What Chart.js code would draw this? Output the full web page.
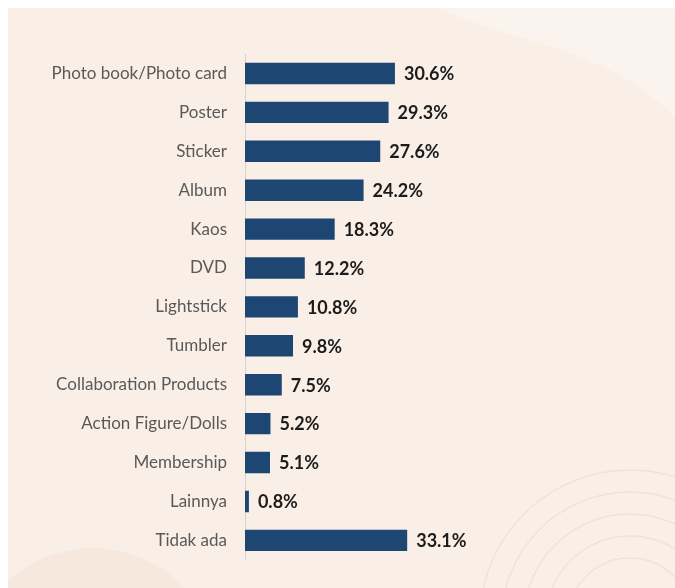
<!DOCTYPE html>
<html>
<head>
<meta charset="utf-8">
<script src="https://cdn.jsdelivr.net/npm/chart.js@4"></script>
<style>
  html, body { margin: 0; padding: 0; background: #ffffff; }
  #frame { position: absolute; left: 8px; top: 8px; width: 667px; height: 580px; background: #f9efe7; overflow: hidden; }
  #deco { position: absolute; left: 0; top: 0; }
  #wrap { position: absolute; left: 0; top: 0; width: 667px; height: 580px; }
</style>
</head>
<body>
<div id="frame">
  <svg id="deco" width="667" height="580" viewBox="0 0 667 580">
    <path d="M 430 0 C 520 40, 600 40, 667 110 L 667 0 Z" fill="#fbf3ed"/>
    <circle cx="85" cy="665" r="125" fill="#f7e8de"/>
    <g fill="none" stroke="#eee2d8" stroke-width="1.3">
      <circle cx="622" cy="612" r="150"/>
      <circle cx="622" cy="612" r="128"/>
      <circle cx="622" cy="612" r="106"/>
      <circle cx="622" cy="612" r="84"/>
      <circle cx="622" cy="612" r="62"/>
    </g>
  </svg>
  <div id="wrap"><canvas id="c"></canvas></div>
</div>
<script>
const categories = ["Photo book/Photo card","Poster","Sticker","Album","Kaos","DVD","Lightstick","Tumbler","Collaboration Products","Action Figure/Dolls","Membership","Lainnya","Tidak ada"];
const values = [30.6,29.3,27.6,24.2,18.3,12.2,10.8,9.8,7.5,5.2,5.1,0.8,33.1];

const valueLabels = {
  id: 'valueLabels',
  afterDatasetsDraw(chart) {
    const ctx = chart.ctx;
    const meta = chart.getDatasetMeta(0);
    ctx.save();
    ctx.font = 'bold 18px Lato';
    ctx.fillStyle = '#1c1c1c';
    ctx.textAlign = 'left';
    ctx.textBaseline = 'middle';
    meta.data.forEach((bar, i) => {
      ctx.fillText(values[i].toFixed(1) + '%', bar.x + 9, bar.y + 1);
    });
    ctx.restore();
  }
};

new Chart(document.getElementById('c'), {
  type: 'bar',
  data: {
    labels: categories,
    datasets: [{
      data: values,
      backgroundColor: '#1e4672',
      borderWidth: 0,
      barPercentage: 0.55,
      categoryPercentage: 1.0
    }]
  },
  options: {
    indexAxis: 'y',
    responsive: true,
    maintainAspectRatio: false,
    animation: false,
    layout: { padding: { top: 46, bottom: 27, left: 0, right: 234 } },
    plugins: { legend: { display: false }, tooltip: { enabled: false } },
    scales: {
      x: { display: false, min: 0, max: 40 },
      y: {
        afterFit(scale) { scale.width = 237; },
        grid: { display: true, drawOnChartArea: false, drawTicks: false },
        border: { display: true, color: '#d8d2cc', width: 1 },
        ticks: { padding: 18, color: '#595959', font: { family: 'Lato', size: 17 } }
      }
    }
  },
  plugins: [valueLabels]
});
</script>
</body>
</html>
